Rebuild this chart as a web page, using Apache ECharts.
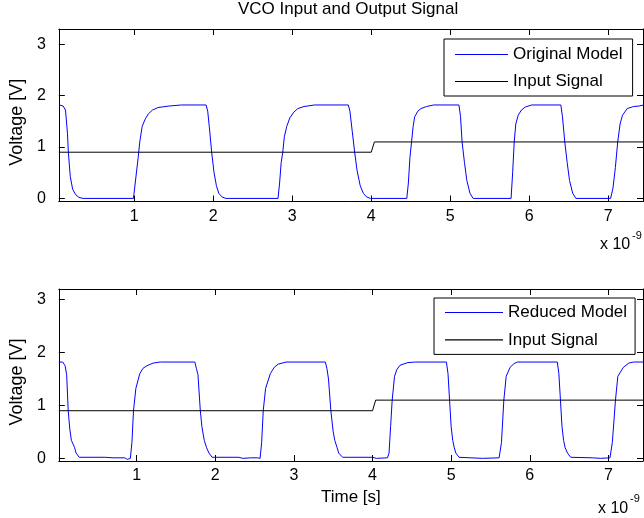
<!DOCTYPE html>
<html>
<head>
<meta charset="utf-8">
<script src="https://cdn.jsdelivr.net/npm/echarts@6/dist/echarts.min.js"></script>
<style>
html,body{margin:0;padding:0;background:#fff;}
#chart{width:644px;height:518px;}
</style>
</head>
<body>
<div id="chart"></div>
<script>
// ---- data (time in ns, voltage in V) ----
const titleText = 'VCO Input and Output Signal';
const xTicks = [1, 2, 3, 4, 5, 6, 7];
const yTicks = [0, 1, 2, 3];
const xRangeTop = [0.045, 7.44];
const xRangeBottom = [0.01, 7.44];
const yRangeTop = [-0.06, 3.3];
const yRangeBottom = [-0.05, 3.2];

const originalModel = [
  [0.05,1.82],[0.10,1.80],[0.13,1.72],[0.155,1.26],[0.166,0.9],[0.19,0.43],[0.22,0.18],[0.26,0.07],[0.30,0.02],[0.35,0.0],
  [0.99,0.0],[1.02,0.4],[1.05,0.8],[1.07,1.1],[1.10,1.40],[1.14,1.55],[1.18,1.65],[1.23,1.72],[1.30,1.77],[1.44,1.80],[1.60,1.82],
  [1.91,1.82],[1.93,1.7],[1.95,1.4],[1.98,0.9],[2.01,0.5],[2.04,0.25],[2.07,0.10],[2.11,0.03],[2.16,0.0],
  [2.82,0.0],[2.84,0.3],[2.86,0.7],[2.88,0.9],[2.90,1.2],[2.93,1.40],[2.97,1.57],[3.02,1.68],[3.07,1.75],[3.15,1.79],[3.28,1.82],
  [3.71,1.82],[3.73,1.7],[3.76,1.3],[3.79,0.9],[3.82,0.55],[3.86,0.25],[3.90,0.10],[3.94,0.03],[3.99,0.0],
  [4.45,0.0],[4.47,0.3],[4.49,0.8],[4.51,1.1],[4.53,1.40],[4.55,1.59],[4.59,1.7],[4.63,1.75],[4.70,1.79],[4.79,1.82],
  [5.11,1.82],[5.13,1.6],[5.15,1.1],[5.18,0.7],[5.21,0.35],[5.25,0.10],[5.29,0.0],
  [5.77,0.0],[5.79,0.5],[5.81,1.1],[5.83,1.45],[5.86,1.62],[5.90,1.72],[5.95,1.78],[6.03,1.82],
  [6.40,1.82],[6.42,1.6],[6.45,1.1],[6.48,0.7],[6.51,0.35],[6.55,0.10],[6.59,0.0],
  [7.03,0.0],[7.06,0.2],[7.09,0.6],[7.12,1.1],[7.15,1.45],[7.18,1.62],[7.24,1.75],[7.32,1.79],[7.39,1.80],[7.45,1.82]
];

const reducedModel = [
  [0.01,1.82],[0.06,1.82],[0.09,1.75],[0.11,1.58],[0.13,0.9],[0.15,0.55],[0.17,0.34],[0.21,0.21],[0.23,0.1],[0.27,0.02],
  [0.60,0.02],[0.62,0.0],[0.70,0.01],[0.85,0.01],[0.88,-0.02],[0.92,0.0],
  [0.94,0.3],[0.96,0.9],[0.99,1.32],[1.04,1.6],[1.08,1.70],[1.13,1.75],[1.21,1.80],[1.30,1.82],
  [1.74,1.82],[1.76,1.7],[1.78,1.58],[1.81,0.9],[1.83,0.6],[1.86,0.34],[1.89,0.2],[1.92,0.1],[1.96,0.02],
  [2.30,0.02],[2.35,0.0],[2.45,0.01],[2.54,0.01],[2.57,0.0],
  [2.59,0.3],[2.61,0.9],[2.64,1.32],[2.70,1.6],[2.75,1.72],[2.80,1.78],[2.90,1.82],
  [3.40,1.82],[3.42,1.7],[3.44,1.5],[3.47,0.9],[3.50,0.5],[3.52,0.34],[3.55,0.2],[3.57,0.1],[3.62,0.02],
  [4.00,0.02],[4.05,0.0],[4.19,0.01],
  [4.21,0.1],[4.23,0.6],[4.25,1.1],[4.28,1.55],[4.31,1.68],[4.35,1.76],[4.45,1.81],[4.55,1.82],
  [4.94,1.82],[4.96,1.6],[4.98,1.1],[5.00,0.6],[5.02,0.34],[5.04,0.2],[5.06,0.1],[5.10,0.02],
  [5.40,0.0],[5.61,0.01],
  [5.64,0.3],[5.67,1.1],[5.70,1.55],[5.75,1.72],[5.80,1.79],[5.84,1.82],
  [6.35,1.82],[6.37,1.6],[6.39,1.1],[6.41,0.6],[6.43,0.34],[6.45,0.2],[6.48,0.1],[6.52,0.02],
  [6.80,0.01],[6.90,0.0],[7.02,0.01],
  [7.05,0.3],[7.09,1.1],[7.12,1.55],[7.19,1.72],[7.26,1.80],[7.32,1.82],[7.44,1.82]
];

const inputSignalTop = [[0.045,0.9],[4.00,0.9],[4.04,1.1],[7.44,1.1]];
const inputSignalBottom = [[0.01,0.9],[4.00,0.9],[4.04,1.1],[7.44,1.1]];

// ---- chart ----
const FONT = '"Liberation Sans", Arial, Helvetica, sans-serif';
const AXC = '#000';
const chart = echarts.init(document.getElementById('chart'), null, {renderer: 'canvas'});

function xAx(grid, range, pos, withLabels, name) {
  return {
    type: 'value', gridIndex: grid, position: pos, min: range[0], max: range[1],
    axisLine: {show: true, onZero: false, lineStyle: {color: AXC, width: 1}},
    axisTick: {show: true, inside: true, length: 6, customValues: xTicks, lineStyle: {color: AXC}},
    axisLabel: {show: withLabels, customValues: xTicks, margin: 7, color: '#000', fontFamily: FONT, fontSize: 16},
    splitLine: {show: false},
    name: name || '', nameLocation: 'middle', nameGap: 28,
    nameTextStyle: {color: '#000', fontFamily: FONT, fontSize: 17}
  };
}
function yAx(grid, range, pos, withLabels) {
  return {
    type: 'value', gridIndex: grid, position: pos, min: range[0], max: range[1],
    axisLine: {show: true, onZero: false, lineStyle: {color: AXC, width: 1}},
    axisTick: {show: true, inside: true, length: 6, customValues: yTicks, lineStyle: {color: AXC}},
    axisLabel: {show: withLabels, customValues: yTicks, margin: 13, color: '#000', fontFamily: FONT, fontSize: 16},
    splitLine: {show: false},
    name: withLabels ? 'Voltage [V]' : '', nameLocation: 'middle', nameGap: 23,
    nameTextStyle: {color: '#000', fontFamily: FONT, fontSize: 18, padding: [0, 14, 0, 0]}
  };
}

const legendBase = {
  orient: 'vertical', icon: 'rect', itemHeight: 1.2,
  borderColor: '#000', borderWidth: 1, backgroundColor: '#fff', borderRadius: 0,
  selectedMode: false,
  itemStyle: {borderWidth: 0},
  textStyle: {color: '#000', fontFamily: FONT, fontSize: 17, lineHeight: 17}
};

const option = {
  backgroundColor: '#fff',
  animation: false,
  title: {
    text: titleText, left: 238, top: 1, padding: 0,
    textStyle: {color: '#000', fontFamily: FONT, fontSize: 17, fontWeight: 'normal'}
  },
  grid: [
    {left: 56, top: 29, right: 1, height: 172.5},
    {left: 55, top: 289, right: 1, height: 172}
  ],
  xAxis: [
    xAx(0, xRangeTop, 'bottom', true),
    xAx(0, xRangeTop, 'top', false),
    xAx(1, xRangeBottom, 'bottom', true, 'Time [s]'),
    xAx(1, xRangeBottom, 'top', false)
  ],
  yAxis: [
    yAx(0, yRangeTop, 'left', true),
    yAx(0, yRangeTop, 'right', false),
    yAx(1, yRangeBottom, 'left', true),
    yAx(1, yRangeBottom, 'right', false)
  ],
  legend: [
    Object.assign({}, legendBase, {
      data: ['Original Model', 'Input Signal'], left: 444, top: 39,
      padding: [7, 10, 6, 11], itemGap: 10, itemWidth: 53
    }),
    Object.assign({}, legendBase, {
      data: ['Reduced Model', 'Input Signal'], left: 434, top: 298,
      padding: [6, 8, 6, 11], itemGap: 10.4, itemWidth: 58
    })
  ],
  series: [
    {name: 'Original Model', type: 'line', xAxisIndex: 0, yAxisIndex: 0, data: originalModel,
     symbol: 'none', lineStyle: {color: '#0000ff', width: 1}, itemStyle: {color: '#0000ff'}},
    {name: 'Input Signal', type: 'line', xAxisIndex: 0, yAxisIndex: 0, data: inputSignalTop,
     symbol: 'none', lineStyle: {color: '#000', width: 1}, itemStyle: {color: '#000'}},
    {name: 'Reduced Model', type: 'line', xAxisIndex: 2, yAxisIndex: 2, data: reducedModel,
     symbol: 'none', lineStyle: {color: '#0000ff', width: 1}, itemStyle: {color: '#0000ff'}},
    {name: 'Input Signal', type: 'line', xAxisIndex: 2, yAxisIndex: 2, data: inputSignalBottom,
     symbol: 'none', lineStyle: {color: '#000', width: 1}, itemStyle: {color: '#000'}}
  ],
  graphic: [
    {type: 'text', left: 600, top: 237, style: {text: 'x 10', fill: '#000', font: '16px ' + FONT}},
    {type: 'text', left: 632, top: 230, style: {text: '-9', fill: '#000', font: '11px ' + FONT}},
    {type: 'text', left: 598, top: 501, style: {text: 'x 10', fill: '#000', font: '16px ' + FONT}},
    {type: 'text', left: 630, top: 493, style: {text: '-9', fill: '#000', font: '11px ' + FONT}}
  ]
};
chart.setOption(option);
</script>
</body>
</html>
